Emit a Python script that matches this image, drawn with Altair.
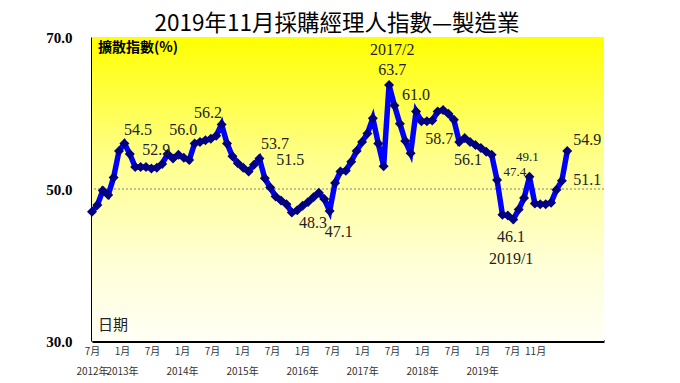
import altair as alt
import pandas as pd

# ---------------- data ----------------
# monthly index, July 2012 (0) .. November 2019 (88)
pmi_values = [
    47.0, 47.9, 49.8, 49.2, 51.5, 55.0, 56.0, 54.6, 52.9, 52.9,
    52.9, 52.7, 52.8, 53.3, 54.6, 54.0, 54.5, 54.1, 53.8, 56.0,
    56.2, 56.4, 56.6, 57.0, 58.5, 56.0, 54.3, 53.4, 52.8, 52.3,
    53.2, 54.0, 51.4, 50.2, 49.0, 48.5, 48.0, 46.9, 47.2, 47.8,
    48.3, 48.9, 49.5, 48.7, 47.1, 50.8, 52.3, 52.4, 53.6, 55.0,
    56.2, 57.3, 59.3, 56.0, 53.0, 63.7, 61.0, 58.6, 56.3, 54.7,
    60.2, 58.9, 58.9, 59.0, 60.2, 60.4, 59.9, 59.1, 56.2, 56.7,
    56.2, 55.8, 55.4, 54.9, 54.5, 51.2, 46.6, 46.5, 46.0, 47.3,
    48.8, 51.6, 48.1, 48.0, 48.0, 48.2, 49.9, 51.1, 55.0,
]
month_index = list(range(len(pmi_values)))

# annotation texts with their anchor (month index, value units)
ann_text = ["54.5", "52.9", "56.0", "56.2", "53.7", "51.5", "48.3", "47.1",
            "2017/2", "63.7", "61.0", "58.7", "56.1", "47.4", "49.1",
            "46.1", "2019/1", "54.9", "51.1"]
ann_month = [8.5, 11.9, 16.9, 21.5, 33.9, 36.7, 40.9, 45.7,
             55.6, 55.6, 60.0, 64.3, 69.6, 78.3, 80.6,
             77.6, 77.6, 91.7, 91.7]
ann_value = [57.8, 55.1, 57.8, 60.0, 55.9, 53.8, 45.5, 44.3,
             68.3, 65.7, 62.4, 56.6, 53.8, 52.2, 54.2,
             43.7, 40.8, 56.5, 51.2]
ann_small = [False] * 13 + [True, True] + [False] * 4

# x-axis tick labels
tick_month_text = ["7月", "1月", "7月", "1月", "7月", "1月", "7月", "1月",
                   "7月", "1月", "7月", "1月", "7月", "1月", "7月", "11月"]
tick_year_text = ["2012年", "2013年", "", "2014年", "", "2015年", "", "2016年",
                  "", "2017年", "", "2018年", "", "2019年", "", ""]
y_ticks = [30, 50, 70]

# ---------------- chart ----------------
W, H = 512, 304
STEP = 5.5556  # tick spacing in month units as drawn on the reference
tick_pos = [k * STEP for k in range(15)] + [82.04]

month_js = "[" + ",".join(f"'{t}'" for t in tick_month_text) + "]"
year_js = "[" + ",".join(f"'{t}'" for t in tick_year_text) + "]"
label_expr = (f"[{month_js}[round(datum.value/{STEP})], "
              f"{year_js}[round(datum.value/{STEP})]]")

df = pd.DataFrame({"m": month_index, "v": pmi_values})
ann = pd.DataFrame({"t": ann_text, "m": ann_month, "v": ann_value,
                    "fs": [13 if s else 16 for s in ann_small]})

x_scale = alt.Scale(domain=[0, 94.8], nice=False, zero=False)
y_scale = alt.Scale(domain=[30, 70], nice=False, zero=False)

x_axis = alt.Axis(values=tick_pos, labelExpr=label_expr, title=None,
                  ticks=False, grid=False, domainColor="black", domainWidth=3,
                  labelFont="Noto Sans CJK TC", labelFontSize=10,
                  labelColor="#333333", labelPadding=5, labelLineHeight=20,
                  labelBaseline="top", labelAlign="center", labelOverlap=False,
                  labelFlush=False)
y_axis = alt.Axis(values=y_ticks, format=".1f", title=None, ticks=False,
                  grid=False, domainColor="black", domainWidth=3,
                  labelFont="Liberation Serif", labelFontWeight="bold",
                  labelFontSize=15, labelColor="black", labelPadding=20)

gradient = alt.Gradient(
    gradient="linear",
    stops=[alt.GradientStop(color="#FFFF00", offset=0),
           alt.GradientStop(color="#FFFF8C", offset=0.4),
           alt.GradientStop(color="#FFFFD8", offset=0.75),
           alt.GradientStop(color="#FFFFF6", offset=1)],
    x1=0, x2=0, y1=0, y2=1)

bg = alt.Chart(pd.DataFrame({"a": [0]})).mark_rect(fill=gradient).encode(
    x=alt.value(0), x2=alt.value(W), y=alt.value(0), y2=alt.value(H))

ref = alt.Chart(pd.DataFrame({"y": [50]})).mark_rule(
    color="#808080", strokeDash=[2, 2], strokeWidth=1).encode(
    y=alt.Y("y:Q", scale=y_scale, axis=y_axis))

base = alt.Chart(df).encode(
    x=alt.X("m:Q", scale=x_scale, axis=x_axis),
    y=alt.Y("v:Q", scale=y_scale, axis=y_axis))

line = base.mark_line(color="#0000FF", strokeWidth=5.5)
pts = base.mark_point(shape="diamond", filled=True, color="#000080",
                      size=100, opacity=1)

labels = alt.Chart(ann).mark_text(font="Liberation Serif", color="#222222",
                                  baseline="middle", align="center").encode(
    x=alt.X("m:Q", scale=x_scale, axis=x_axis),
    y=alt.Y("v:Q", scale=y_scale, axis=y_axis),
    text="t:N",
    size=alt.Size("fs:Q", scale=None, legend=None))

ylab = alt.Chart(pd.DataFrame({"t": ["擴散指數(%)"]})).mark_text(
    font="Noto Sans CJK TC", fontWeight="bold", fontSize=14, color="black",
    align="left", baseline="middle").encode(
    text="t:N", x=alt.value(6), y=alt.value(11))

xlab = alt.Chart(pd.DataFrame({"t": ["日期"]})).mark_text(
    font="Noto Sans CJK TC", fontSize=15, color="#222222",
    align="left", baseline="middle").encode(
    text="t:N", x=alt.value(6), y=alt.value(288))

chart = alt.layer(bg, ref, line, pts, labels, ylab, xlab).properties(
    width=W, height=H,
    title=alt.TitleParams("2019年11月採購經理人指數—製造業",
                          font="Noto Sans CJK TC", fontSize=22.5,
                          fontWeight="normal", color="black",
                          anchor="middle", dx=-11, dy=7, offset=2),
    autosize=alt.AutoSizeParams(type="none"),
    padding={"left": 84, "top": 29, "right": 68, "bottom": 42},
).configure_view(stroke=None)

chart.save("out.html", embed_options={"renderer": "svg", "actions": False})
